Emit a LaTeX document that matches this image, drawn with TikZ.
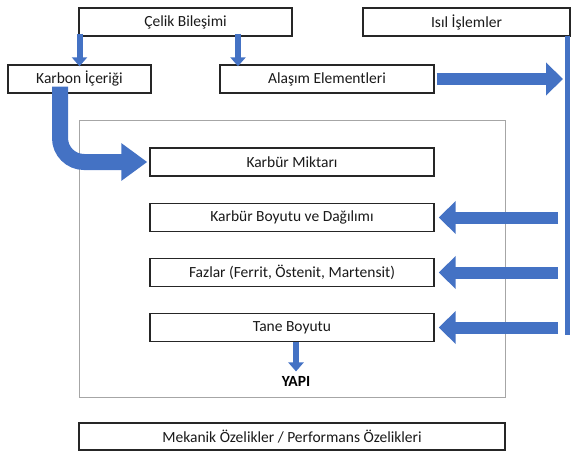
\documentclass[tikz,border=0pt]{standalone}
\usepackage{fontspec}
\setmainfont{Carlito}
\usepackage{xcolor}
\usetikzlibrary{arrows.meta}
\definecolor{officeblue}{RGB}{68,114,196}

\begin{document}
\begin{tikzpicture}[x=1pt,y=-1pt,
  box/.style={draw=black!85,line width=1.4pt,minimum height=28pt,inner sep=0pt,font=\fontsize{15.5}{17}\selectfont,text=black!90},
  thinarrow/.style={draw=officeblue,line width=6pt,-{Triangle[width=15pt,length=9pt]}},
  midarrow/.style={draw=officeblue,line width=12pt,-{Triangle[width=32pt,length=17pt]}},
  bigarrow/.style={draw=officeblue,line width=16pt,-{Triangle[width=36pt,length=26pt]}}]

  \useasboundingbox (0,0) rectangle (572,452);

  % outer frame
  \draw[gray!70,line width=1pt] (79,120) rectangle (505,397);

  \node[box,minimum width=213pt] (celik)   at (185.5,22)  {Çelik Bileşimi};
  \node[box,minimum width=207pt] (isil)    at (466.5,22)  {Isıl İşlemler};
  \node[box,minimum width=143pt] (karbon)  at (79.5,79)   {Karbon İçeriği};
  \node[box,minimum width=214pt] (alasim)  at (327,79)    {Alaşım Elementleri};
  \node[box,minimum width=284pt] (miktar)  at (292,162)   {Karbür Miktarı};
  \node[box,minimum width=284pt] (boyut)   at (292,217.5) {Karbür Boyutu ve Dağılımı};
  \node[box,minimum width=284pt] (fazlar)  at (292,272.5) {Fazlar (Ferrit, Östenit, Martensit)};
  \node[box,minimum width=284pt] (tane)    at (292,327.5) {Tane Boyutu};
  \node[font=\fontsize{15.5}{17}\selectfont\bfseries] (yapi) at (296,381) {YAPI};
  \node[box,minimum width=426pt,minimum height=27pt] (mekanik) at (292,436.5) {Mekanik Özelikler / Performans Özelikleri};

  \coordinate (bartop) at (567.5,36);
  \coordinate (barbot) at (567.5,335);
  \coordinate (bar) at (558,0);

  % arrows
  \draw[thinarrow] ([yshift=3pt]celik.south -| karbon.north) -- ([yshift=-2pt]karbon.north);
  \draw[thinarrow] ([yshift=3pt]celik.south -| 238,0) -- ([yshift=-2pt]alasim.north -| 238,0);
  \draw[midarrow] ([xshift=2pt]alasim.east) -- (563,79);
  \draw[officeblue,line width=5pt] (bartop) -- (barbot);
  \draw[bigarrow,rounded corners=24pt] ([yshift=7pt]karbon.south -| 60,0) |- ([xshift=-2pt]miktar.west);
  \draw[midarrow] (bar |- boyut.east) -- ([xshift=4pt]boyut.east);
  \draw[midarrow] (bar |- fazlar.east) -- ([xshift=4pt]fazlar.east);
  \draw[midarrow] (bar |- tane.east) -- ([xshift=4pt]tane.east);
  \draw[thinarrow] (tane.south -| yapi) -- ([yshift=1pt]yapi.north);
\end{tikzpicture}
\end{document}
